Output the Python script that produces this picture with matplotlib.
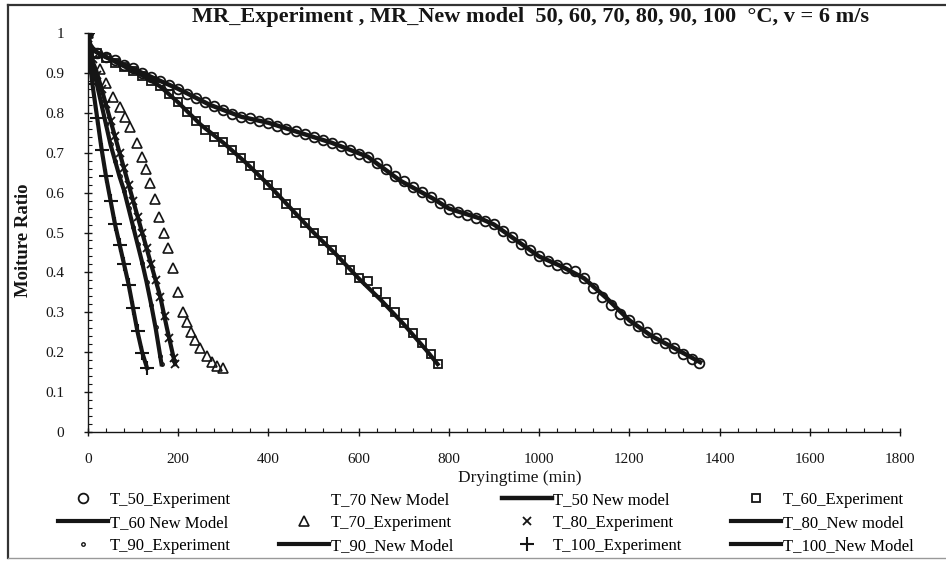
import matplotlib
matplotlib.use("Agg")
import matplotlib.pyplot as plt
from matplotlib.lines import Line2D
from matplotlib.ticker import MultipleLocator

plt.rcParams['font.family'] = ['Liberation Serif', 'DejaVu Serif']

# ---- drying data: time (min) and moisture ratio ----
t50_exp = [0, 20, 40, 60, 80, 100, 120, 140, 160, 180, 200, 220, 240, 260, 280, 300,
           320, 340, 360, 380, 400, 420, 440, 460, 480, 500, 520, 540, 560, 580, 600,
           620, 640, 660, 680, 700, 720, 740, 760, 780, 800, 820, 840, 860, 880, 900,
           920, 940, 960, 980, 1000, 1020, 1040, 1060, 1080, 1100, 1120, 1140, 1160,
           1180, 1200, 1220, 1240, 1260, 1280, 1300, 1320, 1340, 1355]
mr50_exp = [1.0, 0.950, 0.940, 0.932, 0.921, 0.912, 0.900, 0.890, 0.880, 0.869, 0.860,
            0.848, 0.836, 0.826, 0.816, 0.808, 0.798, 0.790, 0.786, 0.780, 0.775, 0.768,
            0.760, 0.754, 0.746, 0.740, 0.733, 0.725, 0.716, 0.706, 0.697, 0.689, 0.675,
            0.660, 0.642, 0.628, 0.615, 0.602, 0.590, 0.575, 0.560, 0.552, 0.543, 0.536,
            0.529, 0.522, 0.505, 0.488, 0.470, 0.455, 0.440, 0.428, 0.418, 0.412, 0.404,
            0.385, 0.360, 0.338, 0.318, 0.296, 0.280, 0.265, 0.250, 0.236, 0.222, 0.210,
            0.196, 0.182, 0.173]
t50_mod = [0, 5, 15, 30, 60, 100, 150, 200, 270, 340, 400, 470, 540, 620, 692, 765,
           800, 870, 900, 950, 1000, 1050, 1100, 1150, 1200, 1250, 1300, 1357]
mr50_mod = [1.0, 0.97, 0.955, 0.945, 0.93, 0.91, 0.885, 0.86, 0.82, 0.79, 0.775, 0.75,
            0.725, 0.69, 0.63, 0.585, 0.56, 0.535, 0.52, 0.48, 0.44, 0.415, 0.385, 0.335,
            0.28, 0.24, 0.21, 0.175]

t60_exp = [0, 20, 40, 60, 80, 100, 120, 140, 160, 180, 200, 220, 240, 260, 280, 300,
           320, 340, 360, 380, 400, 420, 440, 460, 480, 500, 520, 540, 560, 580, 600,
           620, 640, 660, 680, 700, 720, 740, 760, 775]
mr60_exp = [1.0, 0.950, 0.938, 0.926, 0.915, 0.904, 0.892, 0.880, 0.866, 0.848, 0.826,
            0.803, 0.780, 0.758, 0.740, 0.726, 0.706, 0.686, 0.666, 0.643, 0.620, 0.598,
            0.572, 0.548, 0.525, 0.500, 0.478, 0.456, 0.432, 0.405, 0.385, 0.378, 0.350,
            0.325, 0.300, 0.272, 0.248, 0.222, 0.195, 0.170]
t60_mod = [0, 5, 15, 30, 60, 100, 130, 160, 200, 250, 300, 350, 400, 450, 500, 550,
           600, 650, 700, 750, 775]
mr60_mod = [1.0, 0.97, 0.955, 0.945, 0.928, 0.905, 0.888, 0.866, 0.826, 0.77, 0.725,
            0.675, 0.62, 0.56, 0.50, 0.445, 0.385, 0.33, 0.27, 0.205, 0.17]

t70_exp = [0, 15, 27, 41, 56, 71, 82, 93, 108, 120, 128, 137, 148, 157, 168, 177, 189,
           200, 210, 219, 228, 237, 248, 263, 274, 286, 300]
mr70_exp = [1.0, 0.95, 0.91, 0.875, 0.84, 0.815, 0.79, 0.765, 0.725, 0.69, 0.66, 0.625,
            0.585, 0.54, 0.50, 0.46, 0.41, 0.35, 0.30, 0.275, 0.25, 0.23, 0.21, 0.19,
            0.175, 0.165, 0.16]

t80_exp = [0, 10, 20, 30, 40, 50, 60, 70, 80, 90, 100, 110, 120, 130, 140, 150, 160,
           170, 180, 190, 193]
mr80_exp = [1.0, 0.935, 0.895, 0.86, 0.822, 0.78, 0.742, 0.70, 0.662, 0.62, 0.578, 0.54,
            0.50, 0.46, 0.42, 0.38, 0.338, 0.29, 0.235, 0.185, 0.17]
t80_mod = [0, 5, 10, 20, 40, 60, 80, 100, 120, 140, 160, 175, 193]
mr80_mod = [1.0, 0.95, 0.93, 0.90, 0.82, 0.74, 0.66, 0.58, 0.50, 0.42, 0.34, 0.26, 0.17]

t90_exp = [0, 10, 20, 30, 40, 50, 60, 70, 80, 90, 100, 110, 120, 130, 140, 150, 160, 163]
mr90_exp = [1.0, 0.918, 0.872, 0.818, 0.772, 0.722, 0.678, 0.642, 0.603, 0.562, 0.513,
            0.47, 0.424, 0.377, 0.318, 0.262, 0.19, 0.17]
t90_mod = [0, 5, 10, 20, 30, 40, 50, 60, 70, 80, 90, 100, 110, 120, 130, 140, 150, 163]
mr90_mod = [1.0, 0.95, 0.92, 0.87, 0.82, 0.77, 0.72, 0.68, 0.64, 0.605, 0.56, 0.515,
            0.47, 0.425, 0.375, 0.32, 0.26, 0.17]

t100_exp = [0, 10, 20, 30, 40, 50, 60, 70, 80, 90, 100, 110, 120, 131]
mr100_exp = [1.0, 0.872, 0.788, 0.708, 0.642, 0.578, 0.522, 0.468, 0.42, 0.368, 0.31,
             0.252, 0.198, 0.16]
t100_mod = [0, 5, 10, 20, 30, 40, 50, 60, 70, 80, 90, 100, 110, 120, 131]
mr100_mod = [1.0, 0.92, 0.87, 0.79, 0.71, 0.64, 0.58, 0.52, 0.47, 0.42, 0.37, 0.31,
             0.25, 0.20, 0.16]

x_ticks = [0, 200, 400, 600, 800, 1000, 1200, 1400, 1600, 1800]
y_ticks = [0, 0.1, 0.2, 0.3, 0.4, 0.5, 0.6, 0.7, 0.8, 0.9, 1]
y_tick_labels = ['0', '0.1', '0.2', '0.3', '0.4', '0.5', '0.6', '0.7', '0.8', '0.9', '1']

INK = '#151515'

W, H = 946, 561
fig = plt.figure(figsize=(W / 100, H / 100), dpi=100)
ax = fig.add_axes([88 / W, 1 - 432 / H, (900 - 88) / W, (432 - 33) / H])

mk = dict(ls='none', color=INK, mfc='none', mec=INK)
h50e, = ax.plot(t50_exp, mr50_exp, marker='o', ms=7, mew=1.3, label='T_50_Experiment', **mk)
h60e, = ax.plot(t60_exp, mr60_exp, marker='s', ms=6, mew=1.3, label='T_60_Experiment', **mk)
h70e, = ax.plot(t70_exp, mr70_exp, marker='^', ms=7, mew=1.2, label='T_70_Experiment', **mk)
h80e, = ax.plot(t80_exp, mr80_exp, marker='x', ms=6, mew=1.3, label='T_80_Experiment', **mk)
h90e, = ax.plot(t90_exp, mr90_exp, marker='.', ms=5, label='T_90_Experiment', **mk)
h100e, = ax.plot(t100_exp, mr100_exp, marker='+', ms=10, mew=1.5, label='T_100_Experiment', **mk)

h50m, = ax.plot(t50_mod, mr50_mod, color=INK, lw=3.2, label='T_50 New model')
h60m, = ax.plot(t60_mod, mr60_mod, color=INK, lw=3.0, label='T_60 New Model')
h70m, = ax.plot([], [], ls='none', label='T_70 New Model')
h80m, = ax.plot(t80_mod, mr80_mod, color=INK, lw=3.0, label='T_80_New model')
h90m, = ax.plot(t90_mod, mr90_mod, color=INK, lw=3.0, label='T_90_New Model')
h100m, = ax.plot(t100_mod, mr100_mod, color=INK, lw=3.0, label='T_100_New Model')

ax.set_xlim(0, 1800)
ax.set_ylim(0, 1)
ax.set_xticks(x_ticks)
ax.set_yticks(y_ticks)
ax.set_yticklabels(y_tick_labels)
ax.xaxis.set_minor_locator(MultipleLocator(40))
ax.yaxis.set_minor_locator(MultipleLocator(0.02))
ax.tick_params(axis='both', which='major', direction='inout', length=6, width=1,
               color=INK, labelsize=11, labelcolor=INK)
ax.tick_params(axis='x', which='major', pad=12)
ax.tick_params(axis='y', which='major', pad=14)
ax.tick_params(axis='both', which='minor', direction='in', length=3, width=0.8, color=INK)
for side in ('top', 'right'):
    ax.spines[side].set_visible(False)
for side in ('left', 'bottom'):
    ax.spines[side].set_color(INK)
    ax.spines[side].set_linewidth(1.0)

fig.text(530 / W, 1 - 17 / H, 'MR_Experiment , MR_New model  50, 60, 70, 80, 90, 100  °C, v = 6 m/s',
         ha='center', va='center', fontsize=16, fontweight='bold', color=INK)
fig.text(23 / W, 1 - 240 / H, 'Moiture Ratio', rotation=90, ha='center', va='center',
         fontsize=13.5, fontweight='bold', color=INK)
fig.text(520 / W, 1 - 478 / H, 'Dryingtime (min)', ha='center', va='center',
         fontsize=12.5, color=INK)

# legend laid out column by column so it reads row-wise
handles = [h50e, h60m, h90e,
           h70m, h70e, h90m,
           h50m, h80e, h100e,
           h60e, h80m, h100m]
fig.legend(handles=handles, labels=[h.get_label() for h in handles], ncol=4,
           loc='upper left', bbox_to_anchor=(58 / W, 1 - 492 / H),
           frameon=False, fontsize=12, handlelength=3.0, handletextpad=0.1,
           columnspacing=2.9, labelspacing=0.42, borderaxespad=0, borderpad=0)

# page frame
fig.add_artist(Line2D([8 / W, 8 / W], [1 - 5 / H, 1 - 558 / H], transform=fig.transFigure,
                      color='#333333', lw=1.6))
fig.add_artist(Line2D([8 / W, 1.0], [1 - 5 / H, 1 - 5 / H], transform=fig.transFigure,
                      color='#333333', lw=1.6))
fig.add_artist(Line2D([8 / W, 1.0], [1 - 558 / H, 1 - 558 / H], transform=fig.transFigure,
                      color='#999999', lw=1.0))

fig.savefig('out.png', dpi=100, facecolor='white')
